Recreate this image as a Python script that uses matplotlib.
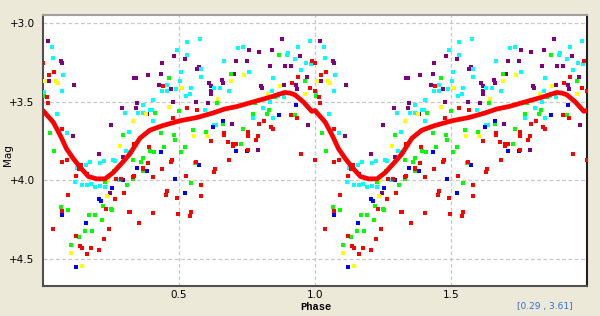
import numpy as np
import matplotlib
matplotlib.use("Agg")
import matplotlib.pyplot as plt

# phase-folded observations, one cycle (0..1); drawn twice
purple_phase = [0.02, 0.065, 0.071, 0.023, 0.115, 0.109, 0.341, 0.29, 0.25, 0.205, 0.16, 0.246, 0.295,
                0.48, 0.523, 0.436, 0.574, 0.566, 0.433, 0.335, 0.386, 0.425, 0.61, 0.619, 0.472, 0.616,
                0.619, 0.344, 0.342, 0.478, 0.5625, 0.607, 0.384,
                0.88, 0.756, 0.794, 0.843, 0.945, 0.711, 0.749, 0.835, 0.89, 0.91, 0.703, 0.972, 0.657,
                0.663, 0.929, 0.935, 0.80, 0.804, 0.886, 0.696, 0.973, 0.79]
purple_mag = [3.11, 3.24, 3.25, 3.37, 3.39, 3.72, 3.35, 3.54, 3.645, 3.83, 3.96, 4.08, 3.85,
              3.21, 3.23, 3.25, 3.28, 3.29, 3.32, 3.35, 3.33, 3.39, 3.38, 3.40, 3.42, 3.43,
              3.45, 3.51, 3.54, 3.50, 3.50, 3.51, 3.58,
              3.10, 3.17, 3.18, 3.17, 3.21, 3.24, 3.24, 3.27, 3.27, 3.27, 3.32, 3.34, 3.36,
              3.38, 3.39, 3.42, 3.40, 3.41, 3.39, 3.64, 3.645, 3.805]

cyan_phase = [0.034, 0.038, 0.075, 0.071, 0.004, 0.30, 0.053, 0.316, 0.087,
              0.576, 0.53, 0.493, 0.528, 0.582, 0.506, 0.58, 0.504, 0.455, 0.544, 0.436, 0.455, 0.488,
              0.65, 0.629, 0.54, 0.525, 0.405, 0.367, 0.393, 0.40, 0.349, 0.366, 0.596, 0.404, 0.629, 0.635,
              0.98, 0.718, 0.736, 0.936, 0.90, 0.896, 0.926, 0.966, 0.985, 0.665, 0.949, 0.757, 0.847,
              0.685, 0.843, 0.864, 0.887, 0.795, 0.835, 0.81, 0.844, 0.771,
              0.173, 0.157, 0.21, 0.225, 0.258, 0.265, 0.124, 0.118, 0.142, 0.16, 0.175, 0.191, 0.21,
              0.229, 0.317, 0.305, 0.28]
cyan_mag = [3.15, 3.22, 3.33, 3.43, 3.44, 3.57, 3.58, 3.69, 3.70,
            3.10, 3.12, 3.17, 3.20, 3.29, 3.31, 3.34, 3.37, 3.39, 3.41, 3.43, 3.43, 3.42,
            3.41, 3.41, 3.45, 3.46, 3.49, 3.52, 3.55, 3.55, 3.57, 3.57, 3.55, 3.62, 3.65, 3.65,
            3.11, 3.155, 3.15, 3.15, 3.19, 3.20, 3.23, 3.25, 3.26, 3.24, 3.30, 3.31, 3.35,
            3.43, 3.43, 3.46, 3.47, 3.49, 3.50, 3.54, 3.60, 3.60,
            3.88, 3.90, 3.89, 3.875, 3.87, 3.875, 3.92, 4.01, 4.03, 4.03, 4.02, 4.04, 4.035,
            4.04, 3.82, 3.815, 4.00]

green_phase = [0.004, 0.026, 0.042, 0.293, 0.463, 0.64, 0.41, 0.501, 0.551, 0.60, 0.483, 0.486, 0.434,
               0.446, 0.522, 0.868, 0.69, 0.964, 0.853, 0.78, 0.83, 0.822, 0.926, 0.773, 0.736, 0.66,
               0.727, 0.229, 0.26, 0.308, 0.219, 0.065, 0.091, 0.249, 0.254, 0.191, 0.17, 0.216, 0.154,
               0.179, 0.134, 0.103, 0.393, 0.408, 0.445, 0.506, 0.523, 0.332, 0.369, 0.36, 0.56, 0.366,
               0.33, 0.545]
green_mag = [3.46, 3.70, 3.81, 3.71, 3.35, 3.51, 3.57, 3.56, 3.68, 3.69, 3.71, 3.74, 3.70,
             3.79, 3.79, 3.20, 3.32, 3.37, 3.47, 3.505, 3.55, 3.575, 3.585, 3.58, 3.67, 3.64,
             3.77, 4.01, 3.94, 4.03, 4.165, 4.17, 4.19, 4.18, 4.19, 4.22, 4.22, 4.255, 4.32,
             4.325, 4.36, 4.41, 3.81, 3.82, 3.79, 3.82, 3.79, 3.87, 3.86, 3.88, 3.89, 3.94,
             3.99, 4.015]

red_phase = [0.0, 0.04, 0.023, 0.016, 0.02, 0.071, 0.336, 0.44, 0.528, 0.567, 0.477, 0.667, 0.342, 0.616,
             0.988, 0.936, 0.917, 0.98, 0.999, 0.91, 0.935, 0.8125, 0.794, 0.665, 0.752, 0.837, 0.844,
             0.79, 0.782, 0.681, 0.755, 0.70, 0.708,
             0.069, 0.087, 0.141, 0.121, 0.27, 0.288, 0.332, 0.091, 0.265, 0.297, 0.071, 0.23, 0.315,
             0.036, 0.244, 0.121, 0.225, 0.136, 0.143, 0.175, 0.207, 0.16,
             0.389, 0.387, 0.474, 0.469, 0.5625, 0.633, 0.63, 0.366, 0.369, 0.4375, 0.335, 0.405, 0.526,
             0.582, 0.455, 0.452, 0.491, 0.58, 0.32, 0.405, 0.495, 0.544, 0.54, 0.354,
             0.70, 0.755, 0.685, 0.949, 0.999, 0.134]
red_mag = [3.25, 3.31, 3.33, 3.47, 3.51, 3.67, 3.77, 3.40, 3.54, 3.55, 3.60, 3.70, 3.77, 3.75,
           3.24, 3.34, 3.38, 3.41, 3.43, 3.585, 3.60, 3.62, 3.64, 3.71, 3.69, 3.66, 3.67,
           3.72, 3.745, 3.755, 3.72, 3.77, 3.77,
           3.88, 3.87, 3.90, 3.97, 3.99, 3.99, 3.975, 4.09, 4.12, 4.08, 4.195, 4.185, 4.20,
           4.31, 4.31, 4.355, 4.37, 4.42, 4.43, 4.43, 4.44, 4.47,
           3.79, 3.89, 3.87, 3.88, 3.88, 3.93, 3.945, 3.92, 3.93, 3.93, 3.97, 3.98, 3.97,
           4.03, 4.065, 4.09, 4.11, 4.10, 4.20, 4.21, 4.215, 4.20, 4.225, 4.27,
           3.78, 3.805, 3.87, 3.83, 3.87, 3.93]

blue_phase = [0.625, 0.662, 0.93, 0.868, 0.71, 0.751, 0.295, 0.255, 0.207, 0.212, 0.069, 0.157, 0.12,
              0.433, 0.575, 0.344, 0.383, 0.484, 0.523]
blue_mag = [3.66, 3.62, 3.52, 3.585, 3.81, 3.815, 4.00, 4.05, 4.12, 4.13, 4.22, 4.27, 4.55,
            3.82, 3.90, 3.92, 3.94, 3.99, 4.08]

yellow_phase = [0.007, 0.048, 0.056, 0.33, 0.283, 0.51, 0.645, 0.377, 0.464, 0.556, 0.604, 0.74, 0.69,
                0.873, 0.826, 0.963, 0.24, 0.235, 0.102, 0.143]
yellow_mag = [3.37, 3.37, 3.38, 3.62, 3.78, 3.41, 3.48, 3.58, 3.53, 3.72, 3.72, 3.33, 3.37,
              3.40, 3.45, 3.45, 4.00, 4.10, 4.46, 4.545]

# mean light curve, one cycle
curve_phase = [0.0, 0.038, 0.0625, 0.087, 0.111, 0.136, 0.167, 0.197, 0.228, 0.258, 0.295, 0.32, 0.338,
               0.357, 0.393, 0.442, 0.504, 0.565, 0.626, 0.669, 0.712, 0.773, 0.835, 0.87, 0.89, 0.91,
               0.926, 0.957, 0.988, 1.0]
curve_mag = [3.555, 3.63, 3.71, 3.80, 3.86, 3.915, 3.975, 3.99, 3.99, 3.95, 3.88, 3.83, 3.78,
             3.73, 3.68, 3.65, 3.62, 3.60, 3.57, 3.545, 3.53, 3.50, 3.47, 3.45, 3.44, 3.445,
             3.455, 3.50, 3.56, 3.555]

bg = "#ECE9D8"
fig = plt.figure(figsize=(6.0, 3.16), dpi=100, facecolor=bg)
ax = fig.add_axes([43/600, 1 - 286/316, 544/600, 271/316])
ax.set_facecolor("white")

series = [(purple_phase, purple_mag, "#800080"),
          (cyan_phase, cyan_mag, "#00FFFF"),
          (yellow_phase, yellow_mag, "#FFFF00"),
          (green_phase, green_mag, "#00FF00"),
          (blue_phase, blue_mag, "#0000FF"),
          (red_phase, red_mag, "#FF0000")]
for ph, mg, col in series:
    ph = np.array(ph)
    for k in (0, 1):
        ax.scatter(ph + k, mg, s=6, marker="s", color=col, linewidths=0, zorder=3)

cp = np.array(curve_phase)
ax.plot(np.concatenate([cp, cp + 1]), curve_mag + curve_mag, color="#FF0000", lw=3.4,
        solid_capstyle="round", zorder=4)

ax.set_xlim(0, 2)
ax.set_ylim(4.672, 2.947)
ax.set_xticks([0.5, 1.0, 1.5])
ax.set_xticklabels(["0.5", "1.0", "1.5"])
ax.set_yticks([3.0, 3.5, 4.0, 4.5])
ax.set_yticklabels(["+3.0", "+3.5", "+4.0", "+4.5"])
ax.tick_params(length=0, labelsize=7.5, colors="black")
ax.tick_params(axis="y", pad=6)
ax.tick_params(axis="x", pad=3)
ax.grid(True, color="#C8C8C8", linestyle=(0, (3, 2)), lw=0.9, zorder=0)

ax.spines["left"].set_color("#505050")
ax.spines["bottom"].set_color("#505050")
ax.spines["right"].set_color("#202020")
ax.spines["top"].set_color("#A0A0A0")
for s in ax.spines.values():
    s.set_linewidth(1.5)

fig.text(316/600, 1 - 307/316, "Phase", ha="center", va="center", fontsize=7.5,
         fontweight="bold", family="Liberation Mono")
fig.text(8/600, 1 - 155/316, "Mag", ha="center", va="center", fontsize=7.5, rotation=90)
fig.text(545/600, 1 - 307/316, "[0.29 , 3.61]", ha="center", va="center", fontsize=6.5,
         color="#2F6FD8")

fig.savefig("out.png", dpi=100, facecolor=bg)
